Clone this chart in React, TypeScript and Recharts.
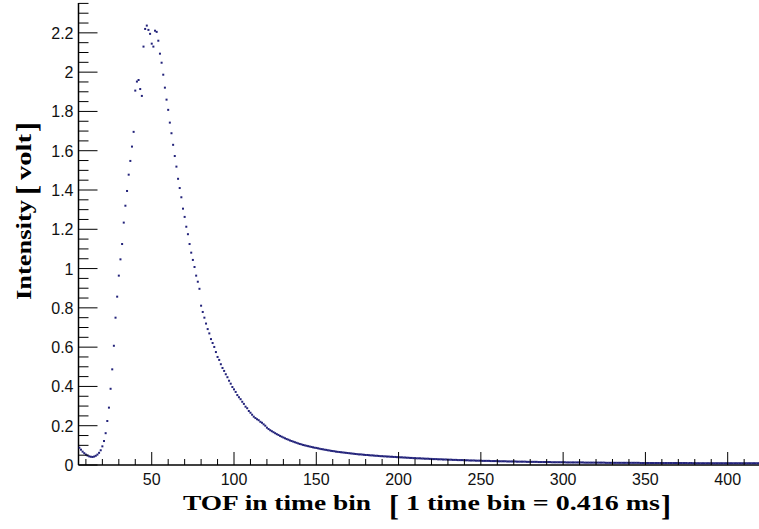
import React from 'react';
import { ScatterChart, Scatter, XAxis, YAxis } from 'recharts';

// first time bin shown
const firstBin = 6;

// intensity [volt] per time bin
const baselineIntensity = [0.088, 0.078, 0.068, 0.060, 0.053, 0.048, 0.044, 0.042, 0.041, 0.043, 0.047, 0.053]; // bins 6-17
const riseIntensity = [0.062, 0.075, 0.095, 0.122, 0.162, 0.224, 0.292, 0.388, 0.487, 0.607, 0.750, 0.857, 0.964, 1.047, 1.125, 1.234, 1.320, 1.395, 1.478, 1.548, 1.621, 1.696]; // 18-39
const peakIntensity = [1.906, 1.952, 1.960, 1.914, 1.879, 2.130, 2.220, 2.237, 2.215, 2.195, 2.145, 2.130, 2.211, 2.205, 2.160, 2.094, 2.048, 1.987, 1.921, 1.860, 1.808]; // 40-60
const fallIntensity = [
  1.743, 1.689, 1.630, 1.573, 1.519, 1.457, 1.410, 1.363, 1.305, 1.263,
  1.213, 1.175, 1.125, 1.081, 1.044, 1.008, 0.964, 0.933, 0.897, 0.811,
  0.779, 0.750, 0.720, 0.692, 0.670, 0.641, 0.621, 0.601, 0.575, 0.550,
  0.535, 0.513, 0.494, 0.479, 0.462, 0.447, 0.429, 0.414, 0.397, 0.385,
  0.372, 0.356, 0.345, 0.335, 0.322, 0.311, 0.297, 0.289, 0.275, 0.266,
  0.256, 0.246, 0.239, 0.233, 0.228, 0.220, 0.215, 0.207, 0.200, 0.190,
  0.183,
]; // 61-121
const tailIntensity = [
  0.177, 0.172, 0.167, 0.162, 0.157, 0.153, 0.148, 0.144, 0.140,
  0.136, 0.132, 0.129, 0.125, 0.122, 0.119, 0.116, 0.113, 0.110, 0.107,
  0.105, 0.102, 0.100, 0.098, 0.096, 0.094, 0.092, 0.090, 0.088, 0.087,
  0.085, 0.083, 0.081, 0.080, 0.078, 0.077, 0.075, 0.074, 0.072, 0.071,
  0.070, 0.068, 0.067, 0.066, 0.065, 0.064, 0.063, 0.062, 0.061, 0.060,
  0.059, 0.058, 0.057, 0.056, 0.055, 0.054, 0.054, 0.053, 0.052, 0.051,
  0.051, 0.050, 0.049, 0.049, 0.048, 0.047, 0.047, 0.046, 0.045, 0.045,
  0.044, 0.044, 0.043, 0.043, 0.042, 0.042, 0.041, 0.041, 0.040, 0.040,
  0.039, 0.039, 0.038, 0.038, 0.037, 0.037, 0.036, 0.036, 0.035, 0.035,
  0.034, 0.034, 0.034, 0.033, 0.033, 0.032, 0.032, 0.032, 0.031, 0.031,
  0.030, 0.030, 0.030, 0.029, 0.029, 0.029, 0.028, 0.028, 0.028, 0.027,
  0.027, 0.027, 0.026, 0.026, 0.026, 0.025, 0.025, 0.025, 0.025, 0.024,
  0.024, 0.024, 0.023, 0.023, 0.023, 0.023, 0.022, 0.022, 0.022, 0.022,
  0.021, 0.021, 0.021, 0.021, 0.021, 0.020, 0.020, 0.020, 0.020, 0.020,
  0.019, 0.019, 0.019, 0.019, 0.019, 0.018, 0.018, 0.018, 0.018, 0.018,
  0.018, 0.017, 0.017, 0.017, 0.017, 0.017, 0.017, 0.016, 0.016, 0.016,
  0.016, 0.016, 0.016, 0.016, 0.015, 0.015, 0.015, 0.015, 0.015, 0.015,
  0.015, 0.015, 0.014, 0.014, 0.014, 0.014, 0.014, 0.014, 0.014, 0.014,
  0.014, 0.013, 0.013, 0.013, 0.013, 0.013, 0.013, 0.013, 0.013, 0.013,
  0.013, 0.013, 0.012, 0.012, 0.012, 0.012, 0.012, 0.012, 0.012, 0.012,
  0.012, 0.012, 0.012, 0.012, 0.012, 0.011, 0.011, 0.011, 0.011, 0.011,
  0.011, 0.011, 0.011, 0.011, 0.011, 0.011, 0.011, 0.011, 0.011, 0.011,
  0.011, 0.011, 0.011, 0.011, 0.011, 0.011, 0.010, 0.010, 0.010, 0.010,
  0.010, 0.010, 0.010, 0.010, 0.010, 0.010, 0.010, 0.010, 0.010, 0.010,
  0.010, 0.010, 0.010, 0.010, 0.010, 0.010, 0.010, 0.010, 0.010, 0.010,
  0.010, 0.010, 0.010, 0.010, 0.010, 0.009, 0.010, 0.010, 0.009, 0.010,
  0.009, 0.009, 0.009, 0.009, 0.009, 0.009, 0.009, 0.009, 0.009, 0.009,
  0.009, 0.009, 0.009, 0.009, 0.009, 0.009, 0.009, 0.009, 0.009, 0.009,
  0.009, 0.009, 0.009, 0.009, 0.009, 0.009, 0.009, 0.009, 0.009, 0.009,
  0.009, 0.009, 0.009, 0.009, 0.009, 0.009, 0.009, 0.009, 0.009, 0.009,
]; // 122-420

const xMajorTicks = [50, 100, 150, 200, 250, 300, 350, 400];
const xTickLabels = ['50', '100', '150', '200', '250', '300', '350', '400'];
const yMajorTicks = [0, 0.2, 0.4, 0.6, 0.8, 1, 1.2, 1.4, 1.6, 1.8, 2, 2.2];
const yTickLabels = ['0', '0.2', '0.4', '0.6', '0.8', '1', '1.2', '1.4', '1.6', '1.8', '2', '2.2'];

const xTitle = 'TOF in time bin';
const xTitleUnit = '1 time bin = 0.416 ms';
const yTitle = 'Intensity';
const yTitleUnit = 'volt';

const allIntensity = [...baselineIntensity, ...riseIntensity, ...peakIntensity, ...fallIntensity, ...tailIntensity];
const points = allIntensity.map((v, i) => ({ bin: firstBin + i, v }));

const xAllTicks = Array.from({ length: 42 }, (_, i) => (i + 1) * 10);
const yAllTicks = Array.from({ length: 48 }, (_, i) => Math.round(i * 5) / 100);

const SANS = "'Liberation Sans', Arial, Helvetica, sans-serif";
const SERIF = "'Liberation Serif', 'Times New Roman', serif";
const DOT = '#22227a';

const XTick = (props: any) => {
  const { x, y, payload } = props;
  const idx = xMajorTicks.indexOf(payload.value);
  const major = idx >= 0;
  return (
    <g>
      <line x1={x} x2={x} y1={y} y2={y - (major ? 13 : 6)} stroke="#000" strokeWidth={1} />
      {major && (
        <text x={x} y={y + 20} textAnchor="middle" fontSize={16} fontFamily={SANS} fill="#111">
          {xTickLabels[idx]}
        </text>
      )}
    </g>
  );
};

const YTick = (props: any) => {
  const { x, y, payload } = props;
  const idx = yMajorTicks.findIndex((t) => Math.abs(t - payload.value) < 1e-6);
  const major = idx >= 0;
  return (
    <g>
      <line x1={x} x2={x + (major ? 19 : 10)} y1={y} y2={y} stroke="#000" strokeWidth={1} />
      {major && (
        <text x={x - 5} y={y} dy={6} textAnchor="end" fontSize={16} fontFamily={SANS} fill="#111">
          {yTickLabels[idx]}
        </text>
      )}
    </g>
  );
};

const XTitle = () => (
  <g fontFamily={SERIF} fontWeight="bold" fill="#000">
    <text x={183} y={510} fontSize={22} textLength={188} lengthAdjust="spacingAndGlyphs">{xTitle}</text>
    <text x={389} y={516} fontSize={30}>[</text>
    <text x={406} y={510} fontSize={22} textLength={254} lengthAdjust="spacingAndGlyphs">{xTitleUnit}</text>
    <text x={661} y={516} fontSize={30}>]</text>
  </g>
);

const YTitle = () => (
  <g fontFamily={SERIF} fontWeight="bold" fill="#000" transform="rotate(-90)">
    <text x={-300} y={31} fontSize={22} textLength={100} lengthAdjust="spacingAndGlyphs">{yTitle}</text>
    <text x={-195} y={37} fontSize={30}>[</text>
    <text x={-180} y={31} fontSize={22} textLength={46} lengthAdjust="spacingAndGlyphs">{yTitleUnit}</text>
    <text x={-132} y={37} fontSize={30}>]</text>
  </g>
);

const DotShape = (props: any) => {
  const { cx, cy } = props;
  if (cx == null || cy == null) return <g />;
  return <rect x={cx - 1} y={cy - 1} width={2} height={2} fill={DOT} />;
};

export default function App() {
  return (
    <div style={{ position: 'absolute', left: 0, top: 0, width: 759, height: 529, overflow: 'hidden', background: '#fff' }}>
      <ScatterChart width={762} height={529} margin={{ top: 3, right: 1.4, bottom: 0, left: 0 }}>
        <XAxis
          type="number"
          dataKey="bin"
          domain={[5.5, 420]}
          allowDataOverflow
          ticks={xAllTicks}
          interval={0}
          height={64}
          tickSize={0}
          tickMargin={0}
          tickLine={false}
          tick={<XTick />}
          axisLine={{ stroke: '#000', strokeWidth: 1.5 }}
          label={<XTitle />}
        />
        <XAxis
          xAxisId="top"
          orientation="top"
          type="number"
          domain={[5.5, 420]}
          height={0}
          tick={false}
          tickLine={false}
          axisLine={{ stroke: '#000', strokeWidth: 2 }}
        />
        <YAxis
          type="number"
          dataKey="v"
          domain={[0, 2.352]}
          allowDataOverflow
          ticks={yAllTicks}
          interval={0}
          width={78.5}
          tickSize={0}
          tickMargin={0}
          tickLine={false}
          tick={<YTick />}
          axisLine={{ stroke: '#000', strokeWidth: 1.5 }}
          label={<YTitle />}
        />
        <Scatter data={points} dataKey="v" shape={DotShape} isAnimationActive={false} fill={DOT} />
      </ScatterChart>
    </div>
  );
}
